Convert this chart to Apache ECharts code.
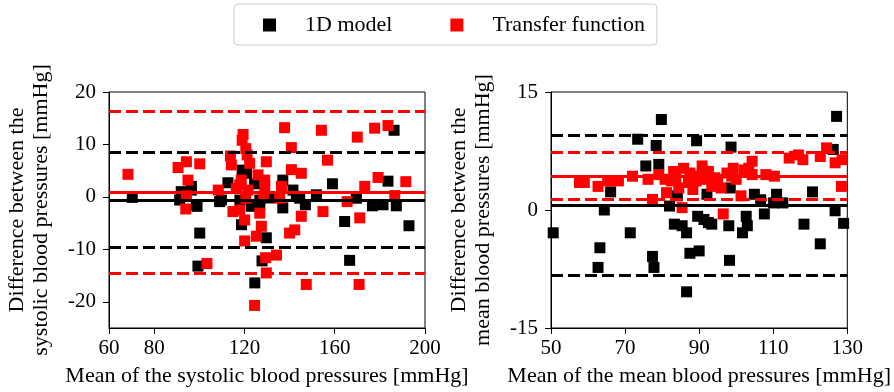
<!DOCTYPE html>
<html>
<head>
<meta charset="utf-8">
<script src="https://cdn.jsdelivr.net/npm/echarts@6/dist/echarts.min.js"></script>
<style>
  html, body { margin: 0; padding: 0; background: #fff; }
  #chart { width: 894px; height: 392px; }
</style>
</head>
<body>
<div id="chart"></div>
<script>
// systolic: [mean, difference]
const sysModel = [
  [70.3, -0.1], [91.3, -0.6], [92, 1.0], [96.5, 2.0], [96.5, 1.3], [98.7, -1.5], [99, -1.8],
  [100.2, -6.9], [99.4, -13.2], [109, -0.9], [109.8, -0.6], [112.7, 2.7], [118, -0.6],
  [119, 5.1], [120.9, 4.5], [118.7, -5.3], [123, -1.8], [124.5, 2.5], [126.8, -1.5], [126.8, -0.6],
  [129.7, -7.8], [127.8, -12.2], [124.6, -16.4], [131.2, -0.2], [137, 3.2], [137, -2.1],
  [141.5, 1.3], [143, 0.1], [144.5, -0.25], [147, -1.5], [151.9, 0.4], [159, 2.5], [164.4, -4.7],
  [166.6, -12.1], [169.6, -0.25], [176.7, -1.7], [181.4, -1.5], [183.6, 3.0], [186.3, 12.7],
  [187.3, -1.7], [192.9, -5.5]
]
const sysTransfer = [
  [68.4, 4.3], [90.6, 5.6], [94.3, 6.7], [100.2, 6.3], [95, 3.2], [94.3, 0.2], [94, -2.3],
  [103.4, -12.7], [108.4, 1.3], [113.8, 7.8], [114.2, 6.1], [114.9, -2.8], [116.4, 1.6],
  [118.6, 3.2], [117.9, 2.3], [119.4, 11.9], [119, 10.8], [120.6, 9.2], [121.2, 8.0], [122.3, 6.4],
  [120.1, -4.4], [120.1, -8.4], [121.6, 1.3], [120.6, -0.25], [117.9, -2.5], [124.5, -20.7],
  [125.3, -7.5], [126.8, -3.1], [127.5, -5.6], [126, 4.2], [129.7, 6.7], [129, 3.2], [129, 2.0],
  [128.5, 0.1], [129.4, -11.6], [129.7, -14.5], [134.2, -11.1], [136.4, 2.0], [135.6, -0.25],
  [137.8, 13.2], [140.8, 9.4], [140, -6.9], [142.3, -6.3], [140.8, 5.2], [145.2, 4.5], [145.2, -3.7],
  [147.4, -16.7], [154.1, 12.7], [154.8, -2.8], [156.8, 7.0], [165.5, -0.9], [170, 11.4],
  [171.1, -4.0], [170.8, -16.7], [173.3, 2.0], [177.7, 13.1], [179.2, 3.7], [183.6, 13.6],
  [186.6, 0.25], [191.5, 2.9]
]
// mean pressures: [mean, difference]
const meanModel = [
  [50.6, -2.9], [63.2, -4.8], [62.7, -7.3], [66.1, 2.3], [64.4, 0], [71.4, -2.9], [73.4, 9.0],
  [75.6, 5.6], [77.4, -5.9], [77.8, -7.3], [78.4, 8.2], [79.1, 5.8], [79.8, 11.5], [82, 0.5],
  [83.3, -1.8], [84.1, 1.8], [85.4, -2.0], [86.6, -2.9], [86.6, -10.4], [87.5, -5.5], [89.3, 8.8],
  [90, -5.2], [89.6, -0.8], [91.3, -1.2], [92.1, 2.0], [92.5, -1.6], [93.4, -1.8], [98, -2.0],
  [98.2, -6.4], [98.6, 8.0], [98.4, 2.8], [101.7, -2.9], [102.7, -0.8], [103, -2.0], [104.9, 2.0],
  [106.6, 1.3], [107.6, -0.5], [110.1, 0.9], [110.9, 2.0], [112.6, 0.9], [118.3, -1.8],
  [120.6, 2.3], [122.7, -4.3], [126.2, 7.7], [126.7, -0.1], [127.1, 11.9], [129, -1.7]
]
const meanTransfer = [
  [57.7, 3.5], [59, 3.5], [62.7, 3.0], [65.3, 3.7], [68.2, 3.7], [72, 4.3], [76.2, 3.9],
  [77.4, 1.35], [79.1, 4.5], [80.8, 3.9], [81.2, 2.2], [82.5, 3.7], [83.1, 4.9], [83.7, 3.9],
  [84.5, 2.8], [85.4, 0.3], [85.8, 5.3], [87.1, 3.5], [87.5, 4.7], [88.3, 2.6], [89.2, 3.7],
  [90, 4.3], [90.8, 5.6], [91.3, 4.9], [91.7, 3.9], [92.5, 4.9], [93.4, 3.0], [94.2, 4.1],
  [95, 3.9], [95.9, 2.8], [96.5, -0.5], [97.5, 4.7], [98.8, 4.3], [99.2, 5.3], [100, 3.9],
  [101.3, 1.8], [102.2, 5.1], [103.4, 5.3], [104.3, 6.2], [104.3, 4.5], [108, 4.5], [110.3, 4.3],
  [114.3, 6.6], [116.8, 7.0], [118, 6.4], [122.7, 6.8], [124.4, 7.9], [126.7, 6.0], [128.6, 6.4],
  [128.4, 3.0]
]
// bias and limits of agreement: [lower, mean, upper]
const sysModelLines = [-9.55, -0.57, 8.45]
const sysTransferLines = [-14.5, 0.82, 16.3]
const meanModelLines = [-8.33, 0.63, 9.55]
const meanTransferLines = [1.35, 4.29, 7.37]

const sysTicks = [60, 80, 120, 160, 200]
const sysDiffTicks = [-20, -10, 0, 10, 20]

const FONT = "'Liberation Serif', 'Times New Roman', serif"
const RED = '#ff0000'
const BLACK = '#000000'

const chart = echarts.init(document.getElementById('chart'))

const tickLabel = { fontFamily: FONT, fontSize: 21, color: BLACK }

function xAxisOpt(idx, min, max, name, extra) {
  return Object.assign({
    type: 'value', gridIndex: idx, min, max,
    name, nameLocation: 'middle', nameGap: 37,
    nameTextStyle: { fontFamily: FONT, fontSize: 22, color: BLACK },
    axisLine: { onZero: false, lineStyle: { color: BLACK, width: 1 } },
    axisTick: { show: true, length: 6, lineStyle: { color: BLACK } },
    axisLabel: Object.assign({ margin: 10 }, tickLabel),
    splitLine: { show: false }
  }, extra || {})
}

function yAxisOpt(idx, min, max, name, extra) {
  return Object.assign({
    type: 'value', gridIndex: idx, min, max,
    name, nameLocation: 'middle', nameGap: 56, nameRotate: 90,
    nameTextStyle: { fontFamily: FONT, fontSize: 22, color: BLACK, lineHeight: 24 },
    axisLine: { onZero: false, lineStyle: { color: BLACK, width: 1 } },
    axisTick: { show: true, length: 6, lineStyle: { color: BLACK } },
    axisLabel: Object.assign({ margin: 13 }, tickLabel),
    splitLine: { show: false }
  }, extra || {})
}

function pointSeries(name, color, idx, data) {
  return {
    name, type: 'scatter', xAxisIndex: idx, yAxisIndex: idx,
    symbol: 'rect', symbolSize: 11, data,
    itemStyle: { color, opacity: 1 },
    z: color === RED ? 3 : 2
  }
}

function limitSeries(idx, color, vals) {
  return {
    type: 'scatter', xAxisIndex: idx, yAxisIndex: idx, data: [], z: 5,
    markLine: {
      silent: true, symbol: ['none', 'none'], label: { show: false }, animation: false,
      data: vals.map((v, i) => ({
        yAxis: v,
        lineStyle: { color, width: 3, type: i === 1 ? 'solid' : [12, 5] }
      }))
    }
  }
}

chart.setOption({
  animation: false,
  textStyle: { fontFamily: FONT },
  legend: {
    data: ['1D model', 'Transfer function'],
    left: 234, top: 4,
    padding: [10, 12, 9, 29],
    itemWidth: 13, itemHeight: 13, itemGap: 58,
    icon: 'rect',
    borderColor: '#cccccc', borderWidth: 1, borderRadius: 4,
    textStyle: { fontFamily: FONT, fontSize: 22, color: BLACK, padding: [0, 0, 0, 24] }
  },
  grid: [
    { left: 109, top: 92, width: 316, height: 237, show: true, borderColor: BLACK, borderWidth: 1 },
    { left: 551, top: 92, width: 317, height: 237, show: true, borderColor: BLACK, borderWidth: 1 }
  ],
  xAxis: [
    xAxisOpt(0, 60, 200, 'Mean of the systolic blood pressures [mmHg]', {
      axisTick: { show: true, length: 6, lineStyle: { color: BLACK }, customValues: sysTicks },
      axisLabel: Object.assign({ margin: 10, customValues: sysTicks }, tickLabel)
    }),
    xAxisOpt(1, 50, 130, 'Mean of the mean blood pressures [mmHg]', { interval: 20 })
  ],
  yAxis: [
    yAxisOpt(0, -25, 20, 'Difference between the\nsystolic blood pressures [mmHg]', {
      axisTick: { show: true, length: 6, lineStyle: { color: BLACK }, customValues: sysDiffTicks },
      axisLabel: Object.assign({ margin: 13, customValues: sysDiffTicks }, tickLabel)
    }),
    yAxisOpt(1, -15, 15, 'Difference between the\nmean blood pressures [mmHg]', { interval: 15 })
  ],
  series: [
    pointSeries('1D model', BLACK, 0, sysModel),
    pointSeries('Transfer function', RED, 0, sysTransfer),
    pointSeries('1D model', BLACK, 1, meanModel),
    pointSeries('Transfer function', RED, 1, meanTransfer),
    limitSeries(0, BLACK, sysModelLines),
    limitSeries(0, RED, sysTransferLines),
    limitSeries(1, BLACK, meanModelLines),
    limitSeries(1, RED, meanTransferLines)
  ]
})
</script>
</body>
</html>
